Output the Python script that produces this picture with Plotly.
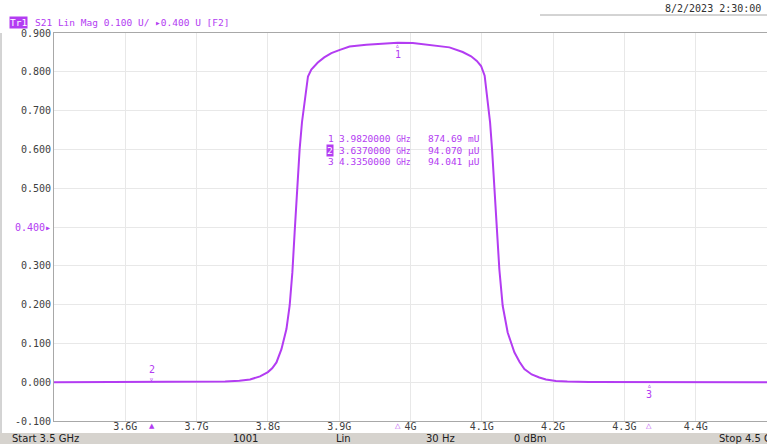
import plotly.graph_objects as go

# ---- data ----
freq_ghz = [3.500, 3.550, 3.600, 3.637, 3.650, 3.700, 3.720, 3.740, 3.760, 3.775,
            3.789, 3.800, 3.806, 3.812, 3.819, 3.826, 3.8305, 3.8343, 3.8375, 3.8408,
            3.8445, 3.8478, 3.8515, 3.8562, 3.8609, 3.8700, 3.8790, 3.8890, 3.9000,
            3.9146, 3.9380, 3.9600, 3.9820, 4.0032, 4.0312, 4.0546, 4.0732, 4.0850,
            4.0930, 4.0990, 4.1040, 4.1083, 4.1116, 4.1144, 4.1176, 4.1209, 4.1246,
            4.1293, 4.1363, 4.1457, 4.1530, 4.1597, 4.1700, 4.1807, 4.1900, 4.2040,
            4.2200, 4.2500, 4.3000, 4.3350, 4.3500, 4.4000, 4.4500, 4.5000]
s21_mag = [0.0000, 0.0001, 0.0001, 0.000094, 0.0002, 0.0006, 0.0010, 0.0018, 0.0035, 0.0070,
           0.0150, 0.0260, 0.0360, 0.0510, 0.0850, 0.1370, 0.1970, 0.2830, 0.3860, 0.4970,
           0.6000, 0.6700, 0.7290, 0.7880, 0.8060, 0.8240, 0.8370, 0.8480, 0.8560,
           0.8650, 0.8700, 0.8730, 0.87469, 0.8740, 0.8690, 0.8630, 0.8510, 0.8400,
           0.8280, 0.8150, 0.7900, 0.7290, 0.6700, 0.6000, 0.4970, 0.3940, 0.2910,
           0.1970, 0.1280, 0.0770, 0.0520, 0.0340, 0.0200, 0.0120, 0.0070, 0.0030,
           0.0015, 0.0008, 0.0003, 0.000094, 0.0001, 0.0001, 0.0000, 0.0000]

marker_ids = ["1", "2", "3"]
marker_freq = [3.9820000, 3.6370000, 4.3350000]
marker_val = [0.87469, 0.000094070, 0.000094041]
marker_text = ["874.69 mU", "94.070 µU", "94.041 µU"]

x_tickvals = [3.6, 3.7, 3.8, 3.9, 4.0, 4.1, 4.2, 4.3, 4.4]
x_ticktext = ["3.6G", "3.7G", "3.8G", "3.9G", "4G", "4.1G", "4.2G", "4.3G", "4.4G"]
y_tickvals = [-0.1, 0.0, 0.1, 0.2, 0.3, 0.4, 0.5, 0.6, 0.7, 0.8, 0.9]
y_ticktext = ["-0.100", "0.000", "0.100", "0.200", "0.300", "0.400", "0.500",
              "0.600", "0.700", "0.800", "0.900"]

status_items = ["Start 3.5 GHz", "1001", "Lin", "30 Hz", "0 dBm", "Stop 4.5 GHz"]

TRACE = "#b33cf2"
GRID = "#e8e8e8"
BORDER = "#a8a8a8"
LABEL = "#404040"
MONO = "DejaVu Sans Mono"

W, H = 767, 444
L, R, T, B = 54, 0, 33, 23
PW, PH = W - L - R, H - T - B


def px(x):
    return (x - L) / PW


def py(y):
    return (H - B - y) / PH


# reference level tick label in trace colour
y_ticktext_styled = [
    (f"<span style='color:{TRACE}'>{t}▸</span>" if v == 0.4 else t)
    for v, t in zip(y_tickvals, y_ticktext)
]

fig = go.Figure()
fig.add_trace(go.Scatter(x=freq_ghz, y=s21_mag, mode="lines",
                         line=dict(color=TRACE, width=2), hoverinfo="skip"))

ann = []
shapes = []

# marker labels on the trace
for mid, f, v in zip(marker_ids, marker_freq, marker_val):
    above = (mid == "2")
    ann.append(dict(x=f, y=v, xref="x", yref="y", text="▿" if above else "▵",
                    showarrow=False, font=dict(family=MONO, size=8, color=TRACE),
                    yshift=3 if above else -3))
    ann.append(dict(x=f, y=v, xref="x", yref="y", text=mid, showarrow=False,
                    font=dict(family=MONO, size=10, color=TRACE),
                    yshift=13 if above else -12))
    # markers on the bottom edge
    ann.append(dict(x=f, y=0, xref="x", yref="paper", text="▲" if mid == "2" else "△",
                    showarrow=False, yanchor="top", yshift=1,
                    font=dict(family="DejaVu Sans", size=7, color=TRACE)))

# marker table
rows_y = [138, 150, 161]
for mid, f, t, yy in zip(marker_ids, marker_freq, marker_text, rows_y):
    if mid == "2":
        ann.append(dict(x=px(326), y=py(yy), xref="paper", yref="paper", text="2",
                        showarrow=False, xanchor="left", yanchor="middle",
                        bgcolor=TRACE, borderpad=0,
                        font=dict(family=MONO, size=9.5, color="white")))
    else:
        ann.append(dict(x=px(326), y=py(yy), xref="paper", yref="paper", text=mid,
                        showarrow=False, xanchor="left", yanchor="middle",
                        font=dict(family=MONO, size=9.5, color=TRACE)))
    ann.append(dict(x=px(337), y=py(yy), xref="paper", yref="paper",
                    text=f"{f:.7f} <span style='font-size:8px'>GHz</span>",
                    showarrow=False, xanchor="left", yanchor="middle",
                    font=dict(family=MONO, size=9.5, color=TRACE)))
    ann.append(dict(x=px(426), y=py(yy), xref="paper", yref="paper", text=t,
                    showarrow=False, xanchor="left", yanchor="middle",
                    font=dict(family=MONO, size=9.5, color=TRACE)))

# header
ann.append(dict(x=px(9), y=py(22), xref="paper", yref="paper", text="Tr1",
                showarrow=False, xanchor="left", yanchor="middle", bgcolor=TRACE,
                borderpad=0, font=dict(family=MONO, size=9.5, color="white")))
ann.append(dict(x=px(33), y=py(22), xref="paper", yref="paper",
                text="S21 Lin Mag 0.100 U/ ▸0.400 U [F2]",
                showarrow=False, xanchor="left", yanchor="middle",
                font=dict(family=MONO, size=9.5, color=TRACE)))
ann.append(dict(x=px(663), y=py(8), xref="paper", yref="paper",
                text="8/2/2023 2:30:00 PM", showarrow=False,
                xanchor="left", yanchor="middle",
                font=dict(family=MONO, size=10, color="#303030")))

# status bar
shapes.append(dict(type="rect", xref="paper", yref="paper", x0=px(0), x1=px(W),
                   y0=py(H), y1=py(433), fillcolor="#d6d3ce", line=dict(width=0),
                   layer="below"))
status_x = [10, 245, 343, 440, 530, 717]
status_anchor = ["left", "center", "center", "center", "center", "left"]
for s, sx, a in zip(status_items, status_x, status_anchor):
    ann.append(dict(x=px(sx), y=py(438.5), xref="paper", yref="paper", text=s,
                    showarrow=False, xanchor=a, yanchor="middle",
                    font=dict(family="DejaVu Sans", size=10, color="#202020")))

# window frame lines
shapes.append(dict(type="line", xref="paper", yref="paper", x0=px(1), x1=px(1),
                   y0=py(33), y1=py(433), line=dict(color=BORDER, width=1)))
shapes.append(dict(type="line", xref="paper", yref="paper", x0=px(540), x1=px(W),
                   y0=py(15), y1=py(15), line=dict(color=BORDER, width=1)))

fig.update_layout(
    width=W, height=H,
    margin=dict(l=L, r=R, t=T, b=B, pad=0),
    plot_bgcolor="white", paper_bgcolor="white",
    showlegend=False,
    annotations=ann, shapes=shapes,
    xaxis=dict(range=[3.5, 4.5], tickvals=x_tickvals, ticktext=x_ticktext,
               showgrid=True, gridcolor=GRID, zeroline=False,
               showline=True, linecolor=BORDER, mirror=True, ticks="", ticklen=0,
               ticklabelstandoff=-4, automargin=False,
               tickfont=dict(family=MONO, size=10, color=LABEL)),
    yaxis=dict(range=[-0.1, 0.9], tickvals=y_tickvals, ticktext=y_ticktext_styled,
               showgrid=True, gridcolor=GRID, zeroline=False,
               showline=True, linecolor=BORDER, ticks="", ticklen=0,
               automargin=False,
               tickfont=dict(family=MONO, size=10, color=LABEL)),
)

fig.write_html("out.html", config={"displayModeBar": False},
               post_script="document.body.style.margin='0';document.body.style.overflow='hidden';")
